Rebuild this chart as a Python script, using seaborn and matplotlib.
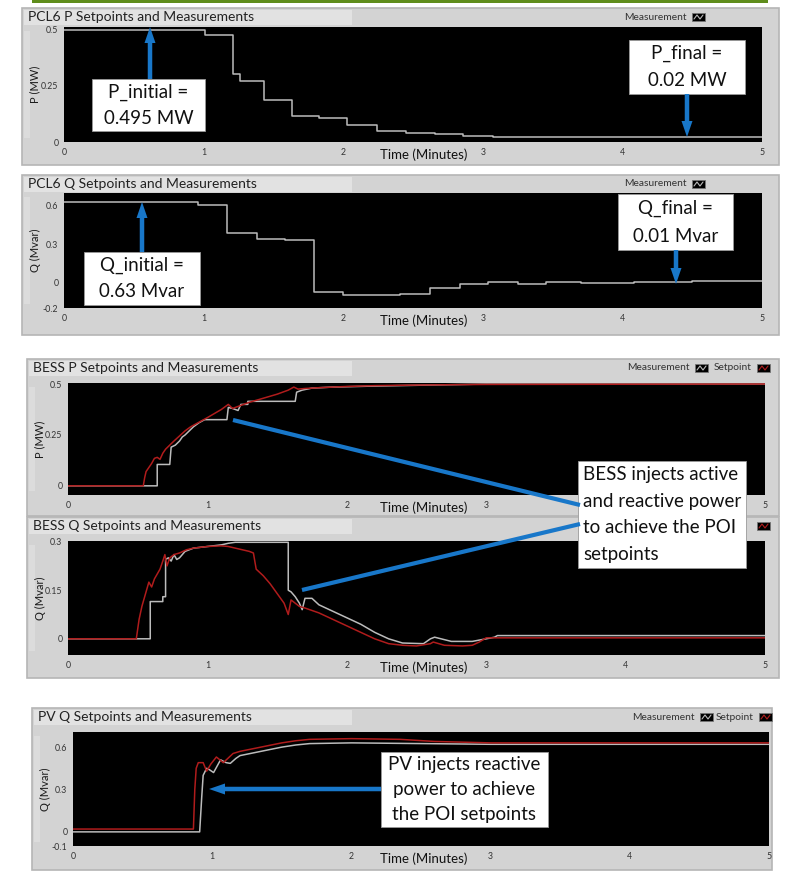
import numpy as np
import pandas as pd
import matplotlib
matplotlib.use("Agg")
import matplotlib.pyplot as plt
import matplotlib.patches as mpatches
import seaborn as sns

sns.set_style("white")
plt.rcParams["font.family"] = ["Lato", "DejaVu Sans"]

W, H = 786, 875

# ---- data (time in minutes) ----
# PCL6 P measurement, step changes (start time, level)
pcl6_p_t = [0, 1.01, 1.21, 1.26, 1.43, 1.63, 1.83, 2.03, 2.24, 2.45, 2.66, 2.86, 3.07, 3.47, 5.0]
pcl6_p_v = [0.495, 0.475, 0.30, 0.27, 0.185, 0.115, 0.105, 0.075, 0.05, 0.042, 0.034, 0.028,
            0.024, 0.02, 0.02]

# PCL6 Q measurement, step changes
pcl6_q_t = [0, 0.96, 1.17, 1.38, 1.58, 1.79, 2.0, 2.41, 2.62, 2.84, 3.04, 3.25, 3.45, 3.7,
            3.88, 4.08, 4.5, 5.0]
pcl6_q_v = [0.63, 0.61, 0.385, 0.34, 0.33, -0.075, -0.10, -0.088, -0.047, -0.016, 0.005,
            -0.016, 0.003, -0.008, -0.003, 0.003, 0.008, 0.008]

# BESS P
bess_p_meas_t = [0, 0.64, 0.64, 0.73, 0.74, 0.77, 0.80, 0.82, 0.84, 0.87, 0.90, 0.94, 0.98,
                 1.14, 1.15, 1.18, 1.22, 1.24, 1.29, 1.29, 1.63, 1.64, 1.68, 1.75, 1.9, 2.2,
                 2.6, 3.0, 5.0]
bess_p_meas_v = [0, 0, 0.105, 0.105, 0.19, 0.20, 0.22, 0.24, 0.25, 0.27, 0.29, 0.31, 0.325,
                 0.325, 0.385, 0.38, 0.37, 0.40, 0.40, 0.415, 0.415, 0.46, 0.47, 0.48, 0.485,
                 0.49, 0.495, 0.5, 0.5]
bess_p_set_t = [0, 0.54, 0.55, 0.56, 0.58, 0.60, 0.62, 0.64, 0.66, 0.68, 0.70, 0.73, 0.76,
                0.80, 0.84, 0.88, 0.92, 0.96, 1.0, 1.05, 1.10, 1.15, 1.18, 1.22, 1.3, 1.4,
                1.5, 1.58, 1.62, 1.65, 1.7, 1.8, 1.9, 2.0, 2.2, 2.5, 3.0, 5.0]
bess_p_set_v = [0, 0, 0.04, 0.07, 0.09, 0.11, 0.135, 0.14, 0.13, 0.16, 0.18, 0.20, 0.22,
                0.245, 0.27, 0.29, 0.305, 0.32, 0.335, 0.355, 0.375, 0.40, 0.38, 0.39, 0.41,
                0.43, 0.45, 0.47, 0.485, 0.475, 0.478, 0.482, 0.485, 0.488, 0.492, 0.495,
                0.498, 0.5]

# BESS Q
bess_q_meas_t = [0, 0.59, 0.59, 0.68, 0.68, 0.70, 0.70, 0.72, 0.74, 0.76, 0.78, 0.80, 0.84,
                 0.9, 1.0, 1.1, 1.15, 1.2, 1.58, 1.58, 1.6, 1.63, 1.66, 1.68, 1.70, 1.75, 1.8,
                 1.9, 2.0, 2.1, 2.2, 2.3, 2.4, 2.55, 2.6, 2.63, 2.75, 2.9, 3.0, 3.06, 3.08, 5.0]
bess_q_meas_v = [0, 0, 0.115, 0.115, 0.13, 0.13, 0.245, 0.25, 0.24, 0.26, 0.245, 0.25, 0.27,
                 0.28, 0.285, 0.29, 0.295, 0.298, 0.298, 0.15, 0.145, 0.13, 0.11, 0.09, 0.125,
                 0.125, 0.105, 0.085, 0.065, 0.045, 0.02, 0.0, -0.013, -0.015, 0.0, 0.005,
                 -0.008, -0.008, 0.0, 0.005, 0.01, 0.01]
bess_q_set_t = [0, 0.49, 0.51, 0.53, 0.55, 0.57, 0.58, 0.60, 0.62, 0.64, 0.66, 0.68, 0.695,
                0.71, 0.73, 0.76, 0.80, 0.85, 0.9, 1.0, 1.1, 1.15, 1.2, 1.25, 1.3, 1.33, 1.35,
                1.4, 1.45, 1.5, 1.55, 1.58, 1.6, 1.63, 1.66, 1.7, 1.8, 1.9, 2.0, 2.1, 2.2,
                2.3, 2.4, 2.5, 2.6, 2.62, 2.7, 2.83, 2.9, 2.95, 3.0, 5.0]
bess_q_set_v = [0, 0, 0.06, 0.10, 0.13, 0.16, 0.175, 0.16, 0.185, 0.20, 0.215, 0.24, 0.26,
                0.225, 0.25, 0.26, 0.265, 0.275, 0.28, 0.285, 0.287, 0.285, 0.28, 0.275,
                0.27, 0.265, 0.215, 0.195, 0.17, 0.14, 0.11, 0.075, 0.12, 0.11, 0.10, 0.095,
                0.08, 0.06, 0.04, 0.02, 0.0, -0.015, -0.02, -0.022, -0.015, -0.01, -0.02,
                -0.022, -0.02, -0.01, 0.003, 0.003]

# PV Q
pv_q_meas_t = [0, 0.91, 0.925, 0.935, 0.96, 0.98, 1.01, 1.06, 1.10, 1.13, 1.17, 1.2, 1.3,
               1.4, 1.5, 1.6, 1.7, 2.0, 2.5, 3.0, 5.0]
pv_q_meas_v = [0, 0, 0.25, 0.40, 0.45, 0.44, 0.42, 0.51, 0.49, 0.485, 0.52, 0.54, 0.56, 0.58,
               0.60, 0.615, 0.625, 0.63, 0.625, 0.62, 0.62]
pv_q_set_t = [0, 0.865, 0.875, 0.885, 0.90, 0.935, 0.96, 0.99, 1.03, 1.08, 1.15, 1.2, 1.3,
              1.4, 1.5, 1.6, 1.7, 2.0, 2.35, 2.6, 3.0, 5.0]
pv_q_set_v = [0.02, 0.02, 0.30, 0.45, 0.49, 0.49, 0.43, 0.48, 0.53, 0.49, 0.555, 0.57, 0.59,
              0.61, 0.63, 0.645, 0.655, 0.66, 0.655, 0.64, 0.63, 0.63]

x_ticks = [0, 1, 2, 3, 4, 5]

MEAS = "#bcbcbc"
SETP = "#b01c1c"
BLUE = "#1877c9"

fig = plt.figure(figsize=(W / 100, H / 100), dpi=100)
fig.patch.set_facecolor("white")

bg = fig.add_axes([0, 0, 1, 1])
bg.set_xlim(0, W)
bg.set_ylim(H, 0)
bg.axis("off")


def px_axes(x0, y0, x1, y1):
    return fig.add_axes([x0 / W, 1 - y1 / H, (x1 - x0) / W, (y1 - y0) / H])


def draw_series(ax, t, v, color, steps=False):
    df = pd.DataFrame({"t": t, "v": v})
    sns.lineplot(data=df, x="t", y="v", ax=ax, color=color, lw=1.1, estimator=None,
                 sort=False, drawstyle="steps-post" if steps else "default")


def legend_item(label, ix, ly, col):
    if label:
        bg.text(ix - 5, ly, label, fontsize=7.4, color="#333333", va="center", ha="right")
    bg.add_patch(mpatches.Rectangle((ix, ly - 4), 13, 8, fc="black", ec="#777777", lw=0.6))
    bg.plot([ix + 2, ix + 5, ix + 8, ix + 11], [ly + 2, ly - 2, ly + 2, ly - 2],
            color=col, lw=0.8)


# green rule at the very top
bg.add_patch(mpatches.Rectangle((32, 0), 736, 2.5, fc="#5f8d1c", ec="none"))

# legend entries: (label, icon x, colour); hidden entries behind the text box are left out
panels = [
    dict(frame=(22, 8, 779, 165), plot=(64, 27, 762, 142), title="PCL6 P Setpoints and Measurements",
         ylim=(0, 0.509), yticks=[0, 0.25, 0.5], ylab="P (MW)",
         legend=[("Measurement", 692, MEAS)], hide_x=[]),
    dict(frame=(22, 175, 779, 335), plot=(64, 193, 762, 308), title="PCL6 Q Setpoints and Measurements",
         ylim=(-0.2, 0.7), yticks=[-0.2, 0, 0.3, 0.6], ylab="Q (Mvar)",
         legend=[("Measurement", 692, MEAS)], hide_x=[]),
    dict(frame=(27, 359, 779, 516), plot=(68, 383, 765, 495), title="BESS P Setpoints and Measurements",
         ylim=(-0.045, 0.505), yticks=[0, 0.25, 0.5], ylab="P (MW)",
         legend=[("Measurement", 695, MEAS), ("Setpoint", 757, SETP)], hide_x=[4]),
    dict(frame=(27, 517, 779, 678), plot=(68, 541, 765, 655), title="BESS Q Setpoints and Measurements",
         ylim=(-0.05, 0.302), yticks=[0, 0.15, 0.3], ylab="Q (Mvar)",
         legend=[("", 757, SETP)], hide_x=[]),
    dict(frame=(32, 708, 772, 870), plot=(73, 732, 769, 846), title="PV Q Setpoints and Measurements",
         ylim=(-0.1, 0.707), yticks=[-0.1, 0, 0.3, 0.6], ylab="Q (Mvar)",
         legend=[("Measurement", 700, MEAS), ("Setpoint", 759, SETP)], hide_x=[]),
]

series = [
    [(pcl6_p_t, pcl6_p_v, MEAS, True)],
    [(pcl6_q_t, pcl6_q_v, MEAS, True)],
    [(bess_p_meas_t, bess_p_meas_v, MEAS, False), (bess_p_set_t, bess_p_set_v, SETP, False)],
    [(bess_q_meas_t, bess_q_meas_v, MEAS, False), (bess_q_set_t, bess_q_set_v, SETP, False)],
    [(pv_q_meas_t, pv_q_meas_v, MEAS, False), (pv_q_set_t, pv_q_set_v, SETP, False)],
]

for p, ser in zip(panels, series):
    fx0, fy0, fx1, fy1 = p["frame"]
    px0, py0, px1, py1 = p["plot"]
    # LabVIEW-like grey frame and title band
    bg.add_patch(mpatches.Rectangle((fx0, fy0), fx1 - fx0, fy1 - fy0, fc="#d3d3d3",
                                    ec="#b5b5b5", lw=1.2))
    bg.add_patch(mpatches.Rectangle((fx0 + 2, fy0 + 2), 350 - fx0, 15, fc="#e2e2e2", ec="none"))
    bg.add_patch(mpatches.Rectangle((fx0 + 2, py0 + 4), 6, py1 - py0 - 8, fc="#dcdcdc", ec="none"))
    bg.text(fx0 + 6, fy0 + 9, p["title"], fontsize=10, color="#222222", va="center", ha="left")
    bg.text(fx0 + 13, (py0 + py1) / 2, p["ylab"], fontsize=8, rotation=90,
            color="#1a1a1a", va="center", ha="center")
    bg.text(424, py1 + 13, "Time (Minutes)", fontsize=9.5, color="#111111",
            va="center", ha="center")

    for label, ix, col in p["legend"]:
        legend_item(label, ix, fy0 + 9, col)

    ax = px_axes(px0, py0, px1, py1)
    ax.set_facecolor("black")
    for t, v, col, steps in ser:
        draw_series(ax, t, v, col, steps)
    ax.set_xlim(0, 5)
    ax.set_ylim(*p["ylim"])
    ax.set_xticks(x_ticks)
    ax.set_xticklabels(["" if x in p["hide_x"] else str(x) for x in x_ticks])
    ax.set_yticks(p["yticks"])
    ax.set_yticklabels([f"{y:g}" for y in p["yticks"]])
    ax.set(xlabel="", ylabel="")
    ax.tick_params(axis="both", labelsize=6.3, labelcolor="#333333", length=2, width=0.6,
                   color="#888888", pad=2)
    for s in ax.spines.values():
        s.set_visible(False)

# annotation overlay in pixel coordinates
ov = fig.add_axes([0, 0, 1, 1], zorder=20)
ov.set_xlim(0, W)
ov.set_ylim(H, 0)
ov.axis("off")
ov.patch.set_alpha(0)


def box(x0, y0, x1, y1, lines, ha="center", size=13.5, pad=5):
    ov.add_patch(mpatches.Rectangle((x0, y0), x1 - x0, y1 - y0, fc="white", ec="#9a9a9a", lw=0.6))
    n = len(lines)
    step = (y1 - y0) / n
    for i, line in enumerate(lines):
        tx = (x0 + x1) / 2 if ha == "center" else x0 + pad
        ov.text(tx, y0 + step * (i + 0.5), line, fontsize=size, color="#111111",
                ha=ha, va="center")


def arrow(x0, y0, x1, y1):
    ov.add_patch(mpatches.FancyArrow(x0, y0, x1 - x0, y1 - y0, width=4.5, head_width=11,
                                     head_length=16, length_includes_head=True,
                                     fc=BLUE, ec=BLUE, lw=0))


box(92, 79, 205, 131, ["P_initial =", "0.495 MW"])
arrow(150, 79, 150, 27)
box(629, 40, 745, 94, ["P_final =", "0.02 MW"])
arrow(687, 94, 687, 137)
box(84, 252, 200, 305, ["Q_initial =", "0.63 Mvar"])
arrow(142, 252, 142, 202)
box(618, 194, 733, 250, ["Q_final =", "0.01 Mvar"])
arrow(676, 250, 676, 284)

box(578, 461, 746, 568, ["BESS injects active", "and reactive power", "to achieve the POI",
                         "setpoints"], ha="left", size=13.5)
ov.plot([233, 580], [420, 505], color=BLUE, lw=3, solid_capstyle="butt")
ov.plot([302, 580], [590, 524], color=BLUE, lw=3, solid_capstyle="butt")

box(381, 752, 548, 827, ["PV injects reactive", "power to achieve", "the POI setpoints"],
    size=13.5)
arrow(381, 789, 209, 789)

fig.savefig("out.png", dpi=100, facecolor="white")
